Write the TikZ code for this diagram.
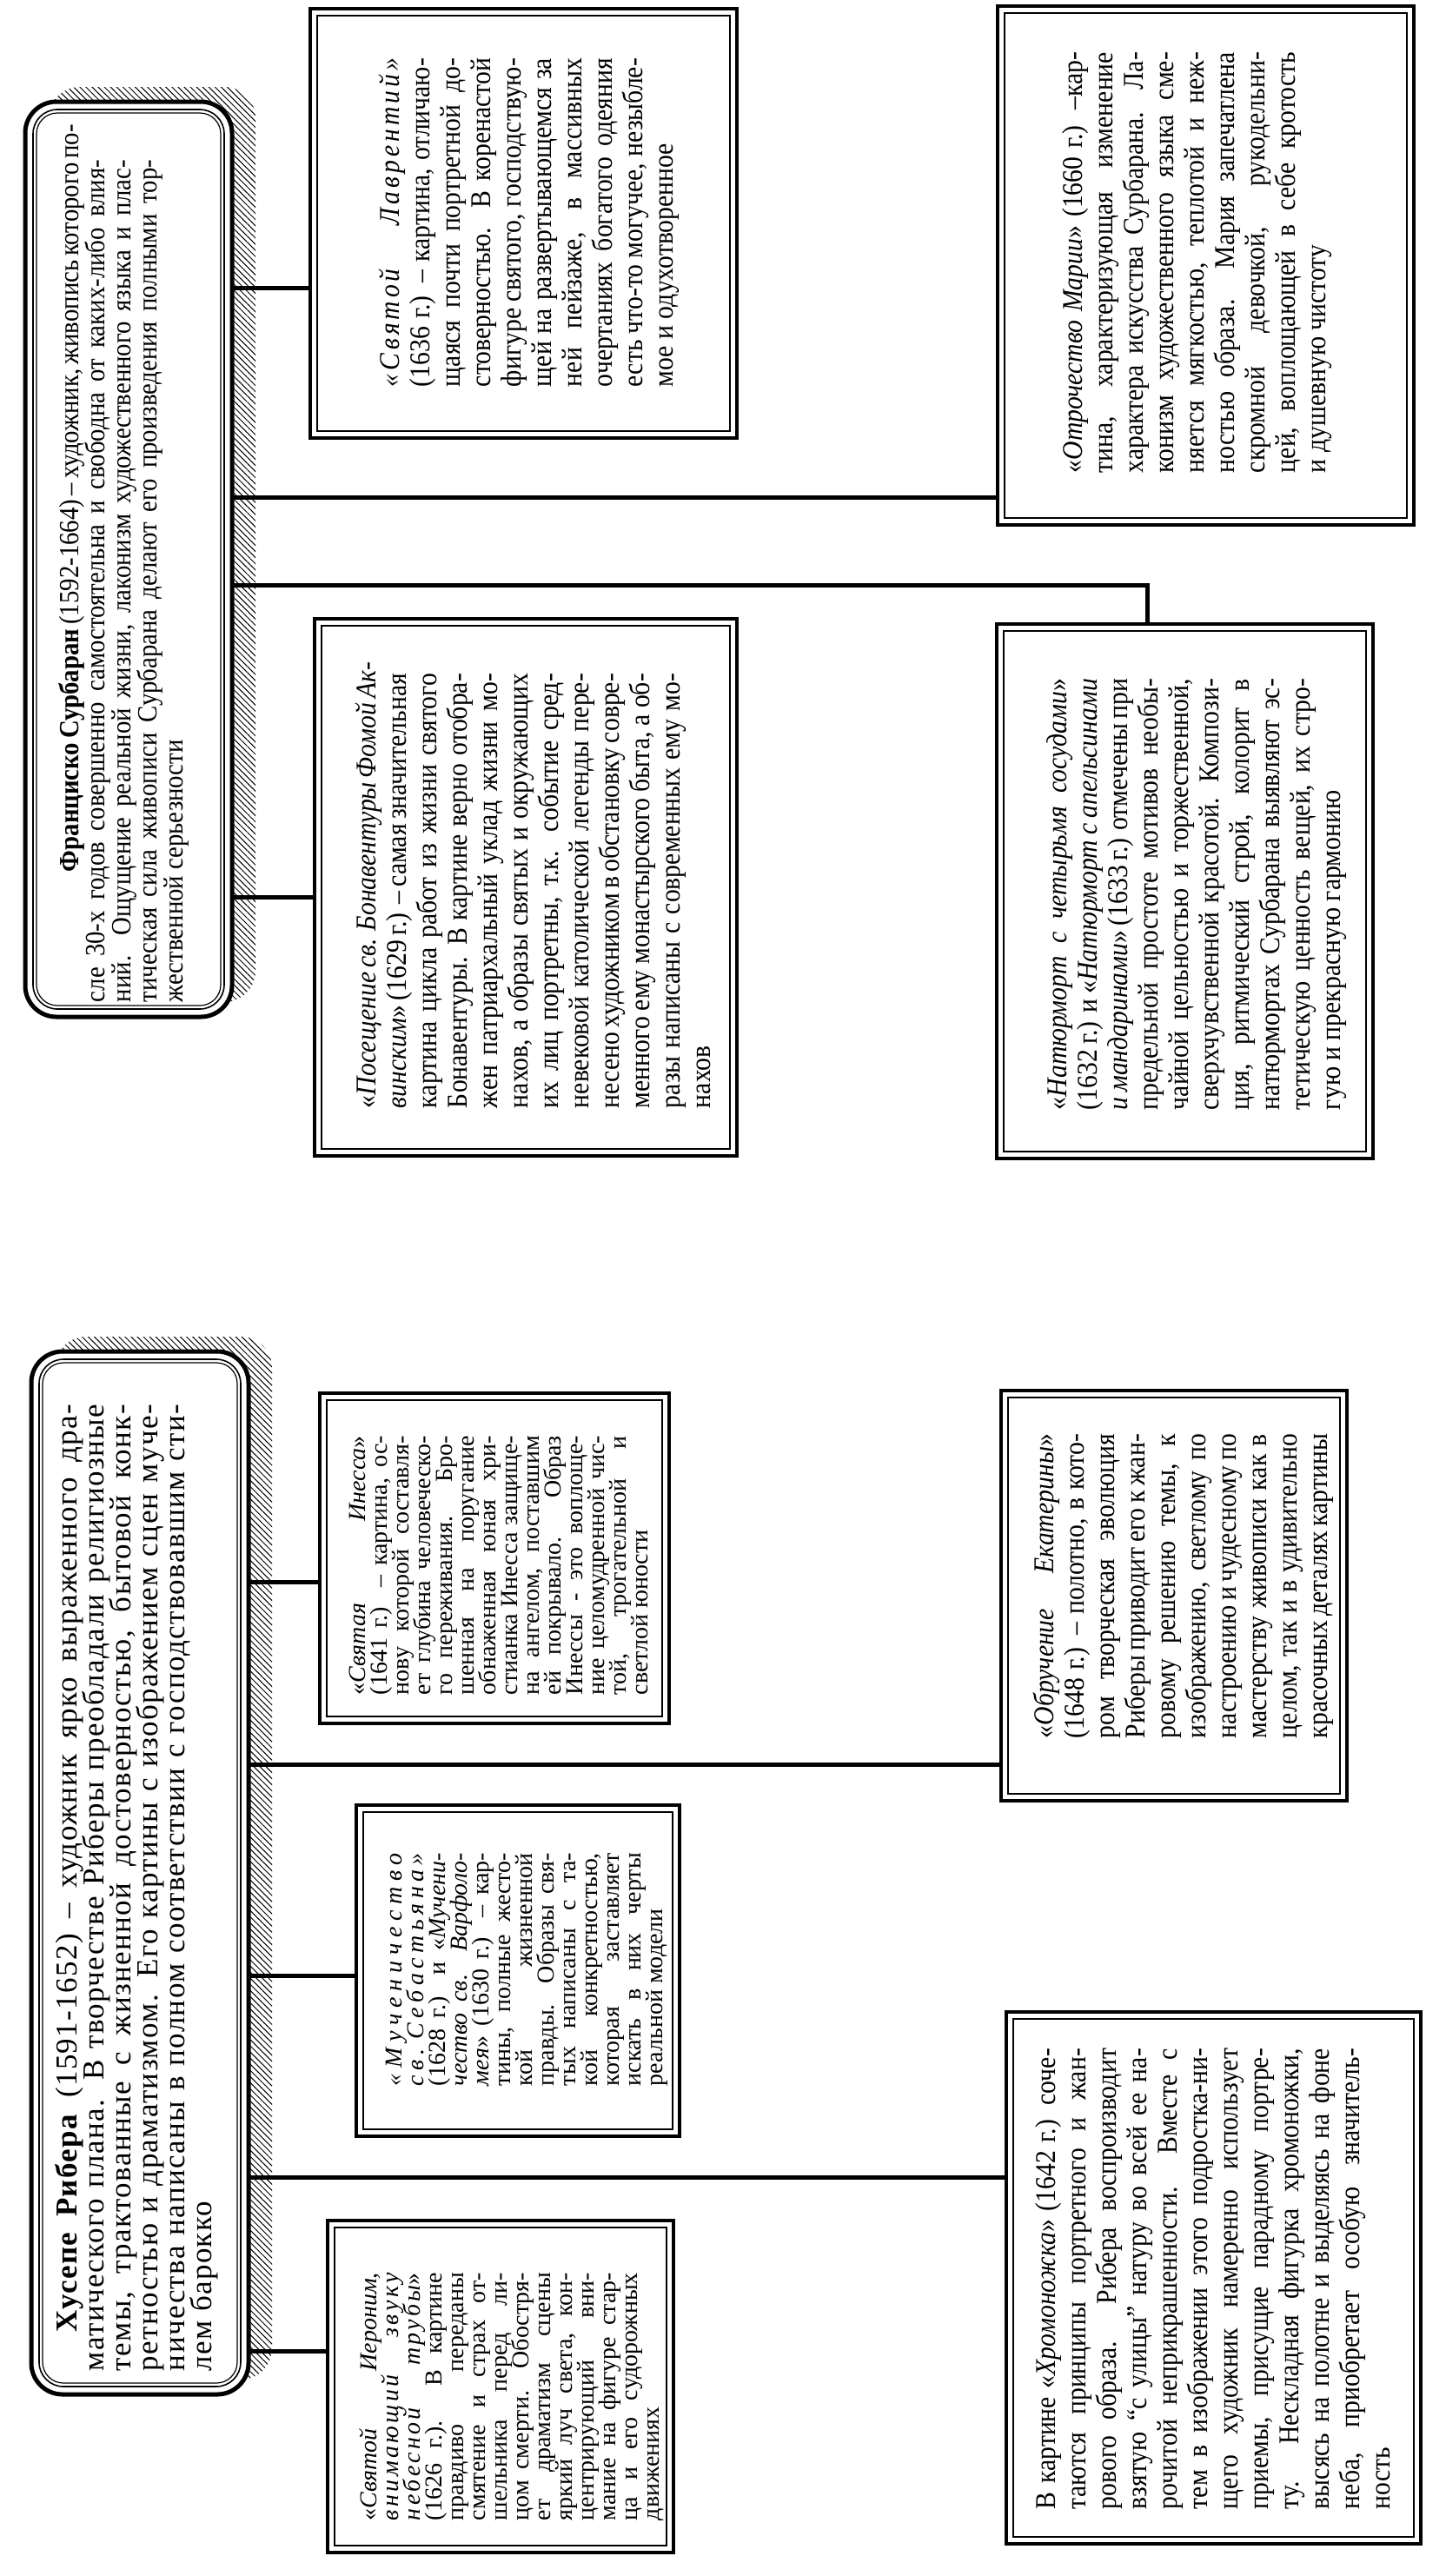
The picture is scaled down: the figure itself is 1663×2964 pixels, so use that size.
\documentclass[tikz,border=0pt]{standalone}
\usepackage{fontspec}
\setmainfont{Liberation Serif}[FakeStretch=0.9]
\newfontfamily\wf{Liberation Serif}
\usetikzlibrary{patterns.meta}
\newcommand\JL[1]{\hbox to\hsize{\strut#1}}
\newcommand\LL[1]{\hbox{\strut#1}}
\newcommand\TB[4]{\vbox{\hsize=#1pt\fontsize{#2}{#3}\selectfont\lineskiplimit=-1000pt\lineskip=0pt#4}}
\newcommand\spit[1]{{\itshape\addfontfeatures{LetterSpace=12}#1}}
\begin{document}
\begin{tikzpicture}[x=1pt,y=-1pt,
  conn/.style={line width=5pt},
  bx/.style={draw, line width=4.5pt, fill=white, inner sep=0pt, outer sep=0pt, anchor=north west},
  hd/.style={draw, line width=5pt, rounded corners=36pt, fill=white, inner sep=0pt, outer sep=0pt, anchor=north west},
  hatch/.style={pattern={Lines[angle=-45,distance=5pt,line width=1pt]}, rounded corners=36pt},
  txt/.style={rotate=90, anchor=north west, inner sep=0pt, outer sep=0pt}]
\fill[white] (0,0) rectangle (1663,2964);
\useasboundingbox (0,0) rectangle (1663,2964);
% shadows
\fill[hatch] (56,100) rectangle (294,1153);
\fill[hatch] (63,1538) rectangle (313,2738);
% headers
\node[hd, minimum width=238pt, minimum height=1053pt] (H1) at (29,117) {};
\node[hd, minimum width=250pt, minimum height=1200pt] (H2) at (36,1555) {};
\foreach \n in {H1,H2}{
  \draw[line width=1.6pt, rounded corners=28pt] ([shift={(9,9)}]\n.north west) rectangle ([shift={(-9,-9)}]\n.south east);
  \draw[line width=1.2pt, rounded corners=24pt] ([shift={(13,13)}]\n.north west) rectangle ([shift={(-13,-13)}]\n.south east);
}
% boxes
\node[bx, minimum width=491pt, minimum height=494pt] (Z1) at (357,10) {};
\node[bx, minimum width=486pt, minimum height=618pt] (Z2) at (362,712) {};
\node[bx, minimum width=479pt, minimum height=597pt] (Z3) at (1148,7) {};
\node[bx, minimum width=433pt, minimum height=615pt] (Z4) at (1147,718) {};
\node[bx, minimum width=402pt, minimum height=380pt] (R1) at (368,1603) {};
\node[bx, minimum width=372pt, minimum height=381pt] (R2) at (410,2077) {};
\node[bx, minimum width=398pt, minimum height=382pt] (R3) at (377,2555) {};
\node[bx, minimum width=398pt, minimum height=472pt] (R4) at (1152,1600) {};
\node[bx, minimum width=477pt, minimum height=612pt] (R5) at (1158,2315) {};
\foreach \n in {Z1,Z2,Z3,Z4,R1,R2,R3,R4,R5}{
  \draw[line width=1.5pt] ([shift={(8,8)}]\n.north west) rectangle ([shift={(-8,-8)}]\n.south east);
}
% connectors
\coordinate (a1) at (0,331);
\coordinate (a2) at (0,572);
\coordinate (a3) at (0,673);
\coordinate (a3b) at (1320,0);
\coordinate (a4) at (0,1032);
\coordinate (b1) at (0,1820);
\coordinate (b2) at (0,2030);
\coordinate (b3) at (0,2273);
\coordinate (b4) at (0,2505);
\coordinate (b5) at (0,2705);
\draw[conn] (a1 -| H1.east) -- (a1 -| Z1.west);
\draw[conn] (a2 -| H1.east) -- (a2 -| Z3.west);
\draw[conn] (a3 -| H1.east) -- (a3 -| a3b) -- (a3b |- Z4.north);
\draw[conn] (a4 -| H1.east) -- (a4 -| Z2.west);
\draw[conn] (b1 -| H2.east) -- (b1 -| R1.west);
\draw[conn] (b2 -| H2.east) -- (b2 -| R4.west);
\draw[conn] (b3 -| H2.east) -- (b3 -| R2.west);
\draw[conn] (b4 -| H2.east) -- (b4 -| R5.west);
\draw[conn] (b5 -| H2.east) -- (b5 -| R3.west);
% texts
\node[txt] (tH1) at (68,1153) {\TB{969}{32}{30}{%
\JL{\hspace*{150pt}\textbf{Франциско Сурбаран} (1592-1664) – художник, живопись которого по-}%
\JL{сле 30-х годов совершенно самостоятельна и свободна от каких-либо влия-}%
\JL{ний. Ощущение реальной жизни, лаконизм художественного языка и плас-}%
\JL{тическая сила живописи Сурбарана делают его произведения полными тор-}%
\LL{жественной серьезности}}};
\node[txt] (tH2) at (63,2728) {\wf\addfontfeatures{LetterSpace=4}\TB{1112}{35}{31}{%
\JL{\hspace*{45pt}\textbf{Хусепе Рибера} (1591-1652) – художник ярко выраженного дра-}%
\JL{матического плана. В творчестве Риберы преобладали религиозные}%
\JL{темы, трактованные с жизненной достоверностью, бытовой конк-}%
\JL{ретностью и драматизмом. Его картины с изображением сцен муче-}%
\JL{ничества написаны в полном соответствии с господствовавшим сти-}%
\LL{лем барокко}}};
\node[txt] (tZ1) at (435,445) {\TB{378}{33}{35}{%
\JL{\spit{«Святой}\hfill\spit{Лаврентий»}}%
\JL{(1636 г.) – картина, отличаю-}%
\JL{щаяся почти портретной до-}%
\JL{стоверностью. В коренастой}%
\JL{фигуре святого, господствую-}%
\JL{щей на развертывающемся за}%
\JL{ней пейзаже, в массивных}%
\JL{очертаниях богатого одеяния}%
\JL{есть что-то могучее, незыбле-}%
\LL{мое и одухотворенное}}};
\node[txt] (tZ2) at (408,1275) {\TB{500}{33}{35}{%
\JL{«\textit{Посещение св. Бонавентуры Фомой Ак-}}%
\JL{\textit{винским}» (1629 г.) – самая значительная}%
\JL{картина цикла работ из жизни святого}%
\JL{Бонавентуры. В картине верно отобра-}%
\JL{жен патриархальный уклад жизни мо-}%
\JL{нахов, а образы святых и окружающих}%
\JL{их лиц портретны, т.к. событие сред-}%
\JL{невековой католической легенды пере-}%
\JL{несено художником в обстановку совре-}%
\JL{менного ему монастырского быта, а об-}%
\JL{разы написаны с современных ему мо-}%
\LL{нахов}}};
\node[txt] (tZ3) at (1221,544) {\TB{484}{33}{35}{%
\JL{«\textit{Отрочество Марии}» (1660 г.) –кар-}%
\JL{тина, характеризующая изменение}%
\JL{характера искусства Сурбарана. Ла-}%
\JL{конизм художественного языка сме-}%
\JL{няется мягкостью, теплотой и неж-}%
\JL{ностью образа. Мария запечатлена}%
\JL{скромной девочкой, рукодельни-}%
\JL{цей, воплощающей в себе кротость}%
\LL{и душевную чистоту}}};
\node[txt] (tZ4) at (1203,1277) {\TB{496}{33}{35}{%
\JL{«\textit{Натюрморт с четырьмя сосудами}»}%
\JL{(1632 г.) и «\textit{Натюрморт с апельсинами}}%
\JL{\textit{и мандаринами}» (1633 г.) отмечены при}%
\JL{предельной простоте мотивов необы-}%
\JL{чайной цельностью и торжественной,}%
\JL{сверхчувственной красотой. Компози-}%
\JL{ция, ритмический строй, колорит в}%
\JL{натюрмортах Сурбарана выявляют эс-}%
\JL{тетическую ценность вещей, их стро-}%
\LL{гую и прекрасную гармонию}}};
\node[txt] (tR1) at (402,1950) {\wf\TB{298}{28}{25}{%
\JL{«\textit{Святая}\hfill\textit{Инесса}»}%
\JL{(1641 г.) – картина, ос-}%
\JL{нову которой составля-}%
\JL{ет глубина человеческо-}%
\JL{го переживания. Бро-}%
\JL{шенная на поругание}%
\JL{обнаженная юная хри-}%
\JL{стианка Инесса защище-}%
\JL{на ангелом, поставшим}%
\JL{ей покрывало. Образ}%
\JL{Инессы - это воплоще-}%
\JL{ние целомудренной чис-}%
\JL{той, трогательной и}%
\LL{светлой юности}}};
\node[txt] (tR2) at (444,2400) {\wf\TB{268}{28}{25}{%
\JL{\itshape«\hfil М\hfil у\hfil ч\hfil е\hfil н\hfil и\hfil ч\hfil е\hfil с\hfil т\hfil в\hfil о}%
\JL{\itshape с\hfil в\hfil .\hfil\hfil С\hfil е\hfil б\hfil а\hfil с\hfil т\hfil ь\hfil я\hfil н\hfil а\hfil »}%
\JL{(1628 г.) и «\textit{Мучени-}}%
\JL{\textit{чество св. Варфоло-}}%
\JL{\textit{мея}» (1630 г.) – кар-}%
\JL{тины, полные жесто-}%
\JL{кой\hfill жизненной}%
\JL{правды. Образы свя-}%
\JL{тых написаны с та-}%
\JL{кой конкретностью,}%
\JL{которая заставляет}%
\JL{искать в них черты}%
\LL{реальной модели}}};
\node[txt] (tR3) at (414,2900) {\wf\TB{285}{28}{25}{%
\JL{«\textit{Святой Иероним,}}%
\JL{\spit{внимающий} \spit{звуку}}%
\JL{\spit{небесной} \spit{трубы}»}%
\JL{(1626 г.). В картине}%
\JL{правдиво переданы}%
\JL{смятение и страх от-}%
\JL{шельника перед ли-}%
\JL{цом смерти. Обостря-}%
\JL{ет драматизм сцены}%
\JL{яркий луч света, кон-}%
\JL{центрирующий вни-}%
\JL{мание на фигуре стар-}%
\JL{ца и его судорожных}%
\LL{движениях}}};
\node[txt] (tR4) at (1188,2000) {\TB{350}{33}{35}{%
\JL{«\textit{Обручение}\hfill\textit{Екатерины}»}%
\JL{(1648 г.) – полотно, в кото-}%
\JL{ром творческая эволюция}%
\JL{Риберы приводит его к жан-}%
\JL{ровому решению темы, к}%
\JL{изображению, светлому по}%
\JL{настроению и чудесному по}%
\JL{мастерству живописи как в}%
\JL{целом, так и в удивительно}%
\JL{красочных деталях картины}}};
\node[txt] (tR5) at (1190,2887) {\TB{530}{33}{35}{%
\JL{В картине «\textit{Хромоножка}» (1642 г.) соче-}%
\JL{таются принципы портретного и жан-}%
\JL{рового образа. Рибера воспроизводит}%
\JL{взятую “с улицы” натуру во всей ее на-}%
\JL{рочитой неприкрашенности. Вместе с}%
\JL{тем в изображении этого подростка-ни-}%
\JL{щего художник намеренно использует}%
\JL{приемы, присущие парадному портре-}%
\JL{ту. Нескладная фигурка хромоножки,}%
\JL{высясь на полотне и выделяясь на фоне}%
\JL{неба, приобретает особую значитель-}%
\LL{ность}}};
\end{tikzpicture}
\end{document}
